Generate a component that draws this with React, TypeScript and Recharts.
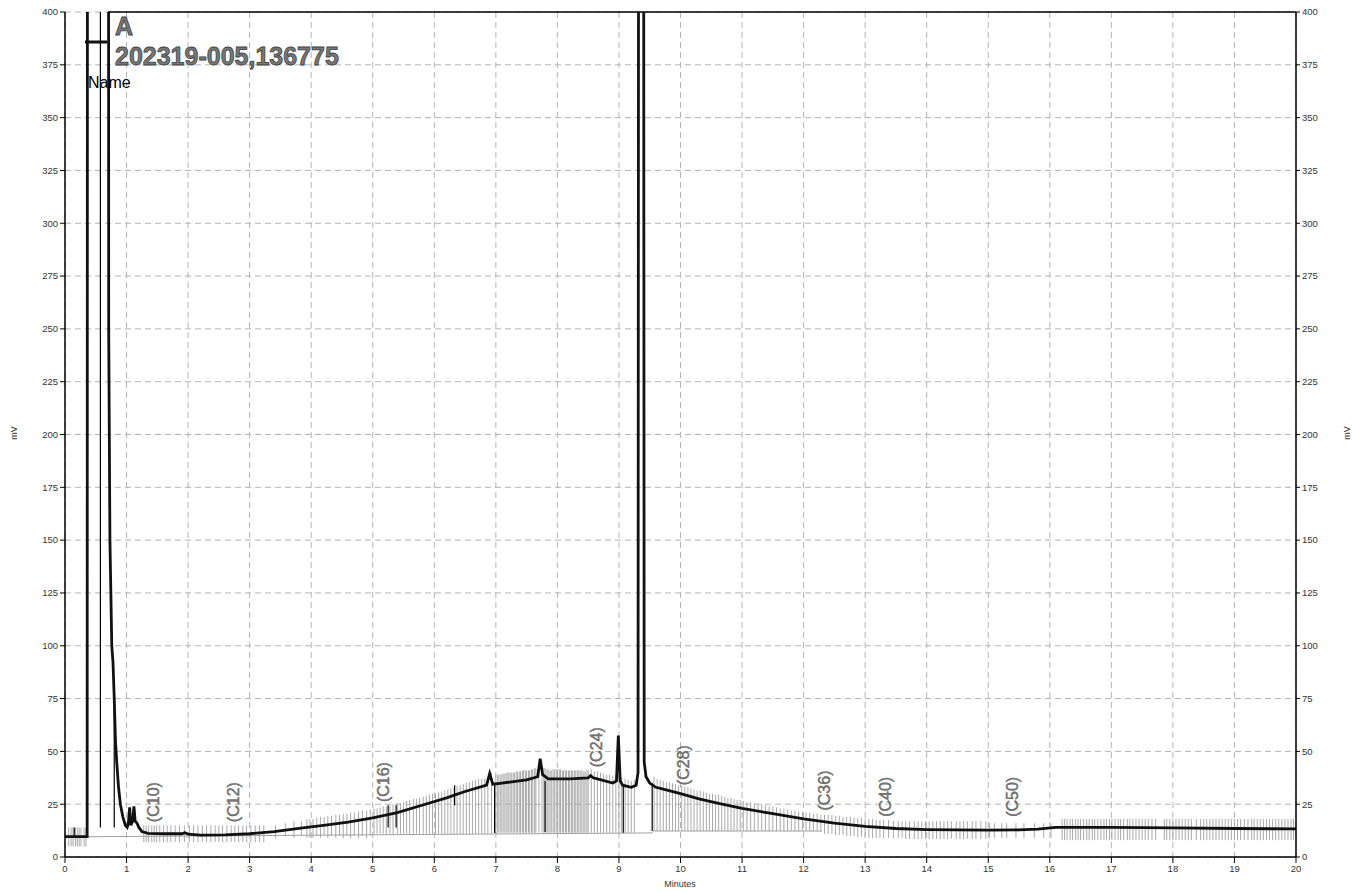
import React from 'react';
import { ComposedChart, Line, Scatter, XAxis, YAxis, CartesianGrid, ReferenceLine } from 'recharts';

// detector trace (minutes / mV); 1000 = off scale
const minutes = [0, 0.36, 0.37, 0.7, 0.71, 0.73, 0.76, 0.78, 0.8, 0.82, 0.84, 0.87, 0.9, 0.94, 0.98, 1.01, 1.03, 1.05, 1.07, 1.1,
  1.12, 1.14, 1.17, 1.2, 1.25, 1.35, 1.6, 1.9, 1.95, 2.0, 2.2, 2.6, 3.0, 3.4, 3.8, 4.2, 4.6, 5.0, 5.4, 5.8,
  6.2, 6.35, 6.5, 6.85, 6.9, 6.95, 7.1, 7.5, 7.68, 7.72, 7.76, 7.85, 8.2, 8.5, 8.54, 8.58, 8.65, 8.9, 8.96, 8.99,
  9.02, 9.06, 9.2, 9.28, 9.31, 9.33, 9.39, 9.41, 9.44, 9.5, 9.6, 9.8, 10.0, 10.3, 10.6, 11.0, 11.5, 12.0, 12.5, 13.0,
  13.5, 14.0, 14.5, 15.0, 15.5, 15.8, 16.1, 17.0, 18.0, 19.0, 20.0];
const millivolts = [9.6, 9.6, 1000, 1000, 250, 150, 100, 92, 75, 55, 45, 33, 25, 19, 15, 14, 16, 23.5, 15, 17,
  24, 17, 16, 14, 12, 11.2, 11, 11, 11.5, 10.8, 10.4, 10.5, 11, 12, 13.5, 15, 16.5, 18.5, 21, 24.5,
  28, 29.5, 31, 34, 39.5, 34.5, 35, 36.5, 38, 46.5, 39, 37, 37, 37.5, 38.5, 37.5, 37, 35, 36, 57.5,
  36, 34, 33, 34, 40, 1000, 1000, 45, 38, 35, 33, 31.5, 30, 27.5, 25.5, 23, 20.5, 18, 16, 14.5,
  13.5, 13, 12.8, 12.7, 12.8, 13.2, 14, 14, 13.8, 13.5, 13.3];

const xTicks = [0, 1, 2, 3, 4, 5, 6, 7, 8, 9, 10, 11, 12, 13, 14, 15, 16, 17, 18, 19, 20];
const yTicks = [0, 25, 50, 75, 100, 125, 150, 175, 200, 225, 250, 275, 300, 325, 350, 375, 400];
const xMinorTicks = Array.from({ length: 201 }, (_, i) => i / 10);
const yMinorTicks = Array.from({ length: 81 }, (_, i) => i * 5);

const peakNames = ['(C10)', '(C12)', '(C16)', '(C24)', '(C28)', '(C36)', '(C40)', '(C50)'];
const peakLabelTimes = [1.43, 2.73, 5.17, 8.64, 10.05, 12.33, 13.33, 15.4];
const peakLabelLevels = [16.5, 16.5, 26, 42.5, 34, 22, 19, 19];

// integration events: grey ticks
const startEventTimes = [0.06, 0.1, 0.13, 0.17, 0.2, 0.23, 0.26, 0.31, 0.34];
const startBand = [5, 14];
const earlyEventTimes = [1.28, 1.32, 1.36, 1.41, 1.45, 1.49, 1.54, 1.6, 1.66, 1.72, 1.79, 1.86, 1.94, 2.02, 2.09, 2.16,
  2.23, 2.3, 2.37, 2.44, 2.5, 2.56, 2.63, 2.7, 2.76, 2.82, 2.89, 2.95, 3.02, 3.09, 3.16, 3.23];
const earlyBand = [7, 15];
const midEventTimes = [15.1, 15.22, 15.3, 15.45, 15.58, 15.75, 15.9, 16.02];
const midBand = [9, 16];
const lateEventTimes = [16.2, 16.24, 16.28, 16.33, 16.37, 16.42, 16.46, 16.5, 16.55, 16.6, 16.64, 16.69, 16.73, 16.78,
  16.83, 16.88, 16.92, 16.97, 17.01, 17.06, 17.11, 17.15, 17.2, 17.26, 17.3, 17.35, 17.4, 17.45, 17.5, 17.55, 17.6,
  17.66, 17.72, 17.86, 17.9, 17.95, 18.0, 18.05, 18.1, 18.15, 18.2, 18.25, 18.3, 18.38, 18.45, 18.5, 18.55, 18.6,
  18.65, 18.7, 18.75, 18.8, 18.85, 18.9, 18.95, 19.0, 19.05, 19.1, 19.16, 19.22, 19.28, 19.32, 19.37, 19.42, 19.47,
  19.52, 19.57, 19.62, 19.67, 19.72, 19.77, 19.82, 19.87, 19.92, 19.96];
const lateBand = [8, 18];

// [minutes, low mV, high mV]
const hillEvents: [number, number, number][] = [
  [3.42, 9, 15], [3.58, 10, 16], [3.72, 9, 17], [3.84, 10, 17], [3.93, 9, 18], [3.98, 9, 18],
  [4.03, 9, 18], [4.09, 10, 18.5], [4.15, 9, 19], [4.21, 10, 19], [4.27, 9, 19.5], [4.33, 10, 19.5], [4.4, 9, 20],
  [4.46, 10, 20], [4.52, 9, 20.5], [4.58, 10, 20.5], [4.64, 9, 21], [4.7, 10, 21], [4.77, 9, 21.5], [4.83, 10, 22],
  [4.9, 9, 22], [4.96, 10, 22.5],
  [5.02, 11, 23], [5.07, 11, 23], [5.12, 11, 23.5], [5.17, 11, 24], [5.22, 11, 24], [5.28, 11, 24.5], [5.33, 11, 25],
  [5.4, 11, 25.5], [5.45, 11, 25.5], [5.5, 11, 26], [5.55, 11, 26.5], [5.6, 11, 27], [5.66, 11, 27.5], [5.71, 11, 27.5],
  [5.76, 11, 28], [5.82, 11, 28.5], [5.87, 11, 29], [5.92, 11, 29.5], [5.97, 11, 30], [6.02, 11, 30], [6.07, 11, 30.5],
  [6.12, 11, 31], [6.17, 11, 31.5], [6.22, 11, 32], [6.27, 11, 32.5], [6.32, 11, 33], [6.37, 11, 33.5], [6.42, 11, 34],
  [6.47, 11, 34.5], [6.52, 11, 35], [6.57, 11, 35.5], [6.62, 11, 36], [6.67, 11, 36.5], [6.72, 11, 37], [6.77, 11, 37],
  [6.82, 11, 37.5], [6.87, 11, 38], [6.93, 11, 40], [7.0, 11, 39], [7.03, 11.5, 39], [7.05, 11.5, 39], [7.08, 11.5, 39],
  [7.1, 11.5, 39.5], [7.13, 11.5, 39.5], [7.15, 11.5, 39.5], [7.18, 11.5, 40], [7.2, 11.5, 40], [7.23, 11.5, 40],
  [7.25, 11.5, 40], [7.28, 11.5, 40], [7.3, 11.5, 40], [7.33, 11.5, 40.5], [7.35, 11.5, 40.5], [7.38, 11.5, 40.5],
  [7.4, 11.5, 40.5], [7.43, 11.5, 41], [7.45, 11.5, 41], [7.48, 11.5, 41], [7.5, 11.5, 41], [7.53, 11.5, 41],
  [7.55, 11.5, 41], [7.58, 11.5, 41.5], [7.6, 11.5, 41.5], [7.63, 11.5, 42], [7.65, 11.5, 42], [7.7, 11.5, 43],
  [7.75, 11.5, 42], [7.78, 11.5, 42], [7.8, 11.5, 42], [7.83, 11.5, 41.5], [7.85, 11.5, 41.5], [7.88, 11.5, 41],
  [7.9, 11.5, 41], [7.93, 11.5, 41.5], [7.95, 11.5, 41.5], [7.98, 11.5, 41.5], [8.0, 11.5, 41.5], [8.03, 11.5, 41.5],
  [8.05, 11.5, 41.5], [8.08, 11.5, 41], [8.1, 11.5, 41], [8.13, 11.5, 41], [8.15, 11.5, 41], [8.18, 11.5, 41],
  [8.2, 11.5, 41], [8.23, 11.5, 41], [8.25, 11.5, 41], [8.28, 11.5, 41], [8.3, 11.5, 41], [8.33, 11.5, 41],
  [8.35, 11.5, 41], [8.38, 11.5, 41], [8.4, 11.5, 41], [8.43, 11.5, 40.5], [8.45, 11.5, 40.5], [8.48, 11.5, 41],
  [8.5, 11.5, 41], [8.55, 11.5, 41.5], [8.6, 11.5, 40.5], [8.65, 11.5, 40.5], [8.7, 11.5, 40], [8.75, 11.5, 39.5],
  [8.8, 11.5, 39], [8.85, 11.5, 39], [8.9, 11.5, 38.5], [8.95, 11.5, 39], [9.0, 11.5, 38], [9.04, 11.5, 37.5],
  [9.1, 11.5, 37], [9.15, 11.5, 36.5], [9.2, 11.5, 36], [9.25, 11.5, 36.5],
  [9.57, 12.3, 38], [9.62, 12.3, 37], [9.67, 12.3, 36.5], [9.72, 12.3, 36], [9.77, 12.3, 35.5], [9.82, 12.3, 35.5],
  [9.87, 12.3, 35], [9.92, 12.3, 34.5], [9.97, 12.3, 34], [10.02, 12.3, 34], [10.07, 12.3, 33.5], [10.12, 12.3, 33],
  [10.17, 12.3, 32.5], [10.22, 12.3, 32], [10.27, 12.3, 31.5], [10.32, 12.3, 31.5], [10.37, 12.3, 31], [10.42, 12.3, 30.5],
  [10.47, 12.3, 30], [10.52, 12.3, 30], [10.57, 12.3, 29.5], [10.62, 12.3, 29.5], [10.67, 12.3, 29], [10.72, 12.3, 28.5],
  [10.77, 12.3, 28], [10.82, 12.3, 28], [10.87, 12.3, 27.5], [10.92, 12.3, 27], [10.97, 12.3, 27], [11.02, 12.3, 26.5],
  [11.08, 12.3, 26], [11.14, 12.3, 26], [11.2, 12.3, 25.5], [11.26, 12.3, 25], [11.32, 12.3, 25], [11.38, 12.3, 24.5],
  [11.44, 12.3, 24], [11.5, 12.3, 24], [11.56, 12.3, 23.5], [11.62, 12.3, 23], [11.68, 12.3, 23], [11.74, 12.3, 22.5],
  [11.8, 12.3, 22], [11.86, 12.3, 22], [11.92, 12.3, 21.5], [11.98, 12.3, 21.5], [12.04, 12.3, 21], [12.1, 12.3, 21],
  [12.16, 12.3, 20.5], [12.22, 12.3, 20.5], [12.28, 12.3, 20],
  [12.34, 11, 20], [12.4, 11, 20], [12.46, 11, 20], [12.52, 10.5, 19.5], [12.58, 10.5, 19.5], [12.64, 10.5, 19],
  [12.7, 10, 19], [12.76, 10, 19], [12.82, 10, 18.5], [12.88, 9.5, 18.5], [12.94, 9.5, 18.5], [13.0, 9.5, 18],
  [13.06, 9, 18], [13.12, 9, 18], [13.18, 9, 17.5], [13.24, 9, 17.5], [13.3, 9, 17.5], [13.38, 9, 17.5], [13.46, 9, 17],
  [13.54, 9, 17], [13.6, 9, 17], [13.66, 8.5, 17], [13.72, 8.5, 17], [13.8, 8.5, 17], [13.86, 8.5, 17], [13.92, 8.5, 17],
  [13.98, 8.5, 17], [14.04, 8.5, 17], [14.1, 8.5, 17], [14.16, 8.5, 17], [14.22, 8.5, 17], [14.28, 8.5, 17],
  [14.34, 8.5, 17], [14.4, 8.5, 17], [14.48, 8.5, 17], [14.54, 8.5, 17], [14.6, 8.5, 17], [14.66, 8.5, 17],
  [14.74, 8.5, 17], [14.8, 8.5, 17], [14.88, 8.5, 17], [14.96, 8.5, 17], [15.02, 9, 16],
];

// dark peak-start markers [minutes, low, high]
const peakMarkers: [number, number, number][] = [
  [0.15, 9.6, 14], [0.575, 14, 400], [0.8, 14, 80], [5.25, 14, 24.5], [5.38, 14, 24.5], [6.33, 24.5, 34],
  [6.98, 11.4, 35], [7.8, 11.8, 36], [9.07, 11.5, 33.5], [9.54, 12.3, 35],
];
// integration baseline [x1, y1, x2, y2]
const baselineSegments: [number, number, number, number][] = [[0.37, 9.6, 9.55, 11.4], [9.55, 12.3, 12.3, 12.3]];

const chromatogram = minutes.map((t, i) => ({ t, mv: millivolts[i] }));
const peakLabels = peakNames.map((name, i) => ({ t: peakLabelTimes[i], mv: peakLabelLevels[i], name }));
const bandTicks: [number, number, number][] = [
  ...startEventTimes.map((t): [number, number, number] => [t, startBand[0], startBand[1]]),
  ...earlyEventTimes.map((t): [number, number, number] => [t, earlyBand[0], earlyBand[1]]),
  ...midEventTimes.map((t): [number, number, number] => [t, midBand[0], midBand[1]]),
  ...lateEventTimes.map((t): [number, number, number] => [t, lateBand[0], lateBand[1]]),
];
const allEvents = [...bandTicks, ...hillEvents];

const FONT = '"Liberation Sans", Arial, sans-serif';
const tickStyle = { fontSize: 9.5, fill: '#333', fontFamily: FONT };

const PeakLabel = (props: any) => {
  const { cx, cy, payload } = props;
  if (cx == null || cy == null) return null;
  return (
    <text x={cx} y={cy} dy="0.35em" transform={`rotate(-90 ${cx} ${cy})`} fontSize={16}
      fontFamily={FONT} fill="#7a7a7a" stroke="#555" strokeWidth={0.4}>
      {payload.name}
    </text>
  );
};

export default function App() {
  return (
    <div style={{ position: 'absolute', left: 0, top: 0, width: 1352, height: 892, background: '#fff' }}>
      <ComposedChart width={1352} height={892} data={chromatogram}
        margin={{ top: 12, right: 6, bottom: 5, left: 15 }}>
        <CartesianGrid xAxisId="x" yAxisId="left" stroke="#b4b4b4" strokeDasharray="6 4" />
        <XAxis xAxisId="minor" dataKey="t" type="number" domain={[0, 20]} ticks={xMinorTicks} interval={0}
          tick={false} tickSize={3} height={0} axisLine={false} tickLine={{ stroke: '#000' }} allowDataOverflow />
        <XAxis xAxisId="x" dataKey="t" type="number" domain={[0, 20]} ticks={xTicks} interval={0} height={30}
          tickSize={6} tickMargin={2} tick={tickStyle} axisLine={{ stroke: '#000', strokeWidth: 1.5 }}
          tickLine={{ stroke: '#000' }} allowDataOverflow />
        <YAxis yAxisId="leftMinor" type="number" domain={[0, 400]} ticks={yMinorTicks} interval={0} tick={false}
          tickSize={3} width={0} axisLine={false} tickLine={{ stroke: '#000' }} allowDataOverflow />
        <YAxis yAxisId="left" type="number" domain={[0, 400]} ticks={yTicks} interval={0} width={50} tickSize={5}
          tickMargin={2} tick={tickStyle} axisLine={{ stroke: '#000', strokeWidth: 1.5 }} tickLine={{ stroke: '#000' }}
          allowDataOverflow />
        <YAxis yAxisId="rightMinor" orientation="right" type="number" domain={[0, 400]} ticks={yMinorTicks}
          interval={0} tick={false} tickSize={3} width={0} axisLine={false} tickLine={{ stroke: '#000' }}
          allowDataOverflow />
        <YAxis yAxisId="right" orientation="right" type="number" domain={[0, 400]} ticks={yTicks} interval={0}
          width={50} tickSize={4} tickMargin={2} tick={tickStyle} axisLine={{ stroke: '#000', strokeWidth: 1.5 }}
          tickLine={{ stroke: '#000' }} allowDataOverflow />

        {allEvents.map(([t, lo, hi], i) => (
          <ReferenceLine key={`ev${i}`} xAxisId="x" yAxisId="left" segment={[{ x: t, y: lo }, { x: t, y: hi }]}
            stroke="#a9a9a9" strokeWidth={1} />
        ))}
        {baselineSegments.map(([x1, y1, x2, y2], i) => (
          <ReferenceLine key={`bl${i}`} xAxisId="x" yAxisId="left" segment={[{ x: x1, y: y1 }, { x: x2, y: y2 }]}
            stroke="#a0a0a0" strokeWidth={1} />
        ))}
        {peakMarkers.map(([t, lo, hi], i) => (
          <ReferenceLine key={`pm${i}`} xAxisId="x" yAxisId="left" segment={[{ x: t, y: lo }, { x: t, y: hi }]}
            stroke="#000" strokeWidth={1.2} />
        ))}
        <ReferenceLine xAxisId="x" yAxisId="left" segment={[{ x: 0.7, y: 400 }, { x: 20, y: 400 }]}
          stroke="#000" strokeWidth={1.5} />

        <Line xAxisId="x" yAxisId="left" dataKey="mv" type="linear" dot={false} activeDot={false}
          stroke="#111" strokeWidth={2.8} isAnimationActive={false} />
        <Scatter xAxisId="x" yAxisId="left" data={peakLabels} dataKey="mv" shape={PeakLabel}
          isAnimationActive={false} />
      </ComposedChart>

      <svg width={1352} height={892} style={{ position: 'absolute', left: 0, top: 0, pointerEvents: 'none' }}>
        <line x1={85} y1={42} x2={107} y2={42} stroke="#111" strokeWidth={3} />
        <text x={115} y={35} fontSize={25} fontWeight="bold" fontFamily={FONT} fill="#777" stroke="#444"
          strokeWidth={0.8}>A</text>
        <text x={115} y={65} fontSize={25} fontWeight="bold" fontFamily={FONT} fill="#777" stroke="#444"
          strokeWidth={0.8}>202319-005,136775</text>
        <text x={88} y={88} fontSize={16} fontFamily={FONT} fill="#000">Name</text>
        <text x={14} y={433} fontSize={9} fontFamily={FONT} fill="#333" textAnchor="middle"
          transform="rotate(-90 14 433)" dy="0.35em">mV</text>
        <text x={1347} y={433} fontSize={9} fontFamily={FONT} fill="#333" textAnchor="middle"
          transform="rotate(-90 1347 433)" dy="0.35em">mV</text>
        <text x={680} y={887} fontSize={9} fontFamily={FONT} fill="#333" textAnchor="middle">Minutes</text>
      </svg>
    </div>
  );
}
